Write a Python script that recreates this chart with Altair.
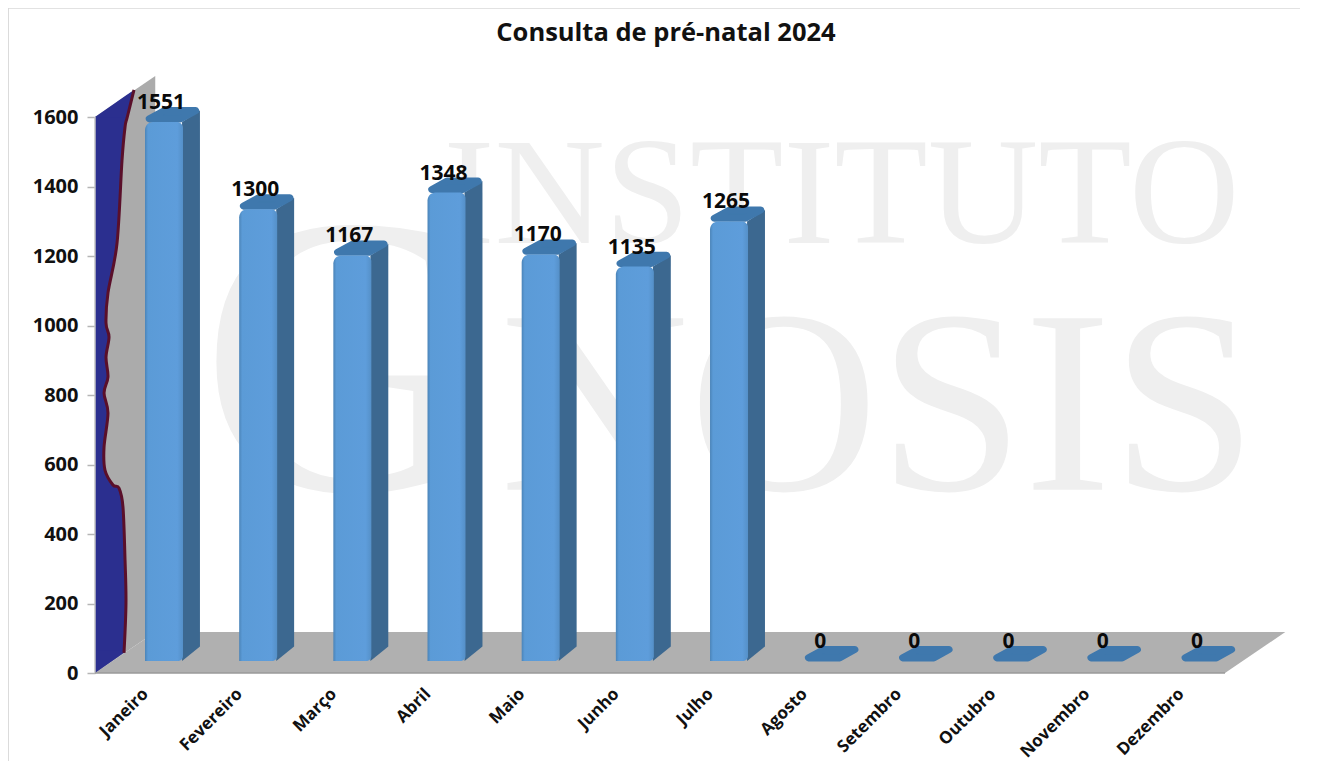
import altair as alt
import pandas as pd

months = ["Janeiro", "Fevereiro", "Março", "Abril", "Maio", "Junho", "Julho",
          "Agosto", "Setembro", "Outubro", "Novembro", "Dezembro"]
values = [1551, 1300, 1167, 1348, 1170, 1135, 1265, 0, 0, 0, 0, 0]

# wavy edge of the blue wall patch (x in category units, y in value units)
edge_y = [1600, 1571, 1476, 1237, 1094, 1007, 967, 909, 852, 806, 748, 650, 584, 541, 532, 478, 325, 201, 58]
edge_x = [-0.157, -0.181, -0.213, -0.266, -0.362, -0.383, -0.351, -0.383, -0.362, -0.404,
          -0.362, -0.404, -0.394, -0.309, -0.245, -0.203, -0.181, -0.171, -0.192]
slope_x = [-0.5, -0.157, -0.086]
slope_top = [1600, 1665, 1678]
toe_x = [-0.5, -0.192]
toe_y = [0, 58]

FONT = "Open Sans"
XMIN, XMAX, YMAX = -0.5, 12.158, 1718
DX, DY = 0.64, 118          # depth of the back wall / floor
BX, BW, BD = 0.031, 0.4035, 0.18   # bar offset, width, depth
BASE, RISE = 34.5, 42       # bar base above axis, rise of the top face
INX, INY = 0.045, 9         # inset of the rounded top face

xs = alt.Scale(domain=[XMIN, XMAX], nice=False, zero=False)
ys = alt.Scale(domain=[0, YMAX], nice=False, zero=False)
label_expr = "[" + ",".join(f"'{m}'" for m in months) + "][datum.value]"
x_axis = alt.Axis(
    values=list(range(12)), labelExpr=label_expr, labelAngle=-45, labelAlign="right",
    labelBaseline="middle", labelFont=FONT, labelFontWeight="bold", labelFontSize=17,
    labelColor="#111111", ticks=False, domain=False, grid=False, labelPadding=18, labelOffset=3,
    labelOverlap=False, labelBound=False, labelFlush=False, title=None)
y_axis = alt.Axis(
    values=list(range(0, 1601, 200)), format="d", labelFont=FONT, labelFontWeight="bold", labelFontSize=20,
    labelColor="#111111", tickColor="#b5b5b5", tickSize=8, tickWidth=1.5, domain=False,
    grid=False, labelPadding=9, labelOverlap=False, labelBound=False, labelFlush=False, title=None)
X = alt.X("x:Q", scale=xs, axis=x_axis)
Y = alt.Y("y:Q", scale=ys, axis=y_axis)
Y2 = alt.Y2("y2:Q")

# watermark
wm = pd.DataFrame({
    "t": ["INSTITUTO", "G", "NOSIS"],
    "x": [3.20, 0.615, 3.80],
    "y": [1237, 527, 527],
    "s": [153, 400, 262],
})
watermark = alt.Chart(wm).mark_text(font="Liberation Serif", align="left", baseline="alphabetic",
                                    color="#efefef").encode(
    x=X, y=Y, text="t:N", size=alt.Size("s:Q", scale=None, legend=None))

# wall and floor
wall_df = pd.DataFrame({"x": [XMIN, XMIN + DX], "y": [0, DY], "y2": [1600, 1600 + DY]})
wall = alt.Chart(wall_df).mark_area(color="#ababab").encode(x=X, y=Y, y2=Y2)

floor_df = pd.DataFrame({
    "x": [XMIN, XMIN + DX, 11.5, 11.5 + DX],
    "y": [0, 0, 0, DY],
    "y2": [0, DY, DY, DY],
})
floor = alt.Chart(floor_df).mark_area(color="#b0b0b0").encode(x=X, y=Y, y2=Y2)

# blue patch on the wall with its dark red edge
patch_df = pd.DataFrame({
    "x": [XMIN] * len(edge_x),
    "x2": edge_x,
    "y": edge_y,
})
patch = alt.Chart(patch_df).mark_area(orient="horizontal", color="#2b2f8f", interpolate="cardinal").encode(
    x=X, x2=alt.X2("x2:Q"), y=Y)
slope_df = pd.DataFrame({"x": slope_x, "y": [1598, 1598, 1678], "y2": slope_top})
slope = alt.Chart(slope_df).mark_area(color="#2b2f8f").encode(x=X, y=Y, y2=Y2)
toe_df = pd.DataFrame({"x": toe_x, "y": toe_y, "y2": [toe_y[1] + 6, toe_y[1] + 6]})
toe = alt.Chart(toe_df).mark_area(color="#2b2f8f").encode(x=X, y=Y, y2=Y2)
edge_df = pd.DataFrame({"x": [slope_x[2]] + edge_x, "y": [slope_top[2]] + edge_y, "i": range(len(edge_x) + 1)})
edge = alt.Chart(edge_df).mark_line(color="#5a0f2a", strokeWidth=3, interpolate="cardinal").encode(
    x=X, y=Y, order="i:Q")

# bars
front, side, top, labels = [], [], [], []
for i, (m, v) in enumerate(zip(months, values)):
    x0 = i + BX
    x1 = x0 + BW
    y0 = BASE
    yt = BASE + v
    labels.append({"x": x0 + 0.17, "y": yt, "t": str(v)})
    top += [
        {"m": m, "x": x0 + INX, "y": yt + INY, "y2": yt + INY},
        {"m": m, "x": x0 + BD + INX * 0.6, "y": yt + INY, "y2": yt + RISE - INY},
        {"m": m, "x": x1 - INX * 0.6, "y": yt + INY, "y2": yt + RISE - INY},
        {"m": m, "x": x1 + BD - INX, "y": yt + RISE - INY, "y2": yt + RISE - INY},
    ]
    if v > 0:
        front.append({"x": x0, "x2": x1, "y": y0, "y2": yt})
        side += [
            {"m": m, "x": x1 - 0.01, "y": y0, "y2": yt},
            {"m": m, "x": x1 + BD, "y": y0 + RISE, "y2": yt + RISE - INY},
        ]

side_m = alt.Chart(pd.DataFrame(side)).mark_area(color="#3c6890").encode(
    x=X, y=Y, y2=Y2, detail="m:N")
top_m = alt.Chart(pd.DataFrame(top)).mark_area(color="#3f78ad", stroke="#3f78ad", strokeWidth=7,
                                               strokeJoin="round").encode(
    x=X, y=Y, y2=Y2, detail="m:N")
grad = alt.Gradient(gradient="linear", x1=0, x2=1, y1=0, y2=0, stops=[
    alt.GradientStop(color="#4b84b8", offset=0),
    alt.GradientStop(color="#5b9bd7", offset=0.08),
    alt.GradientStop(color="#5e9ddb", offset=0.85),
    alt.GradientStop(color="#5590c8", offset=1),
])
front_m = alt.Chart(pd.DataFrame(front)).mark_bar(color=grad, cornerRadiusTopLeft=8, cornerRadiusTopRight=6,
                                                  cornerRadiusBottomRight=5).encode(
    x=X, x2=alt.X2("x2:Q"), y=Y, y2=Y2)
text_m = alt.Chart(pd.DataFrame(labels)).mark_text(font=FONT, fontWeight="bold", fontSize=21, color="#0a0a0a",
                                                   baseline="middle", dy=-19).encode(
    x=X, y=Y, text="t:N")

# floor edge, axis line
floor_edge_df = pd.DataFrame({"x": [XMIN], "x2": [11.5], "y": [0]})
floor_edge = alt.Chart(floor_edge_df).mark_rule(color="#9a9a9a", strokeWidth=1.5).encode(
    x=X, x2=alt.X2("x2:Q"), y=Y)
y_line_df = pd.DataFrame({"x": [XMIN], "y": [0], "y2": [1600]})
y_line = alt.Chart(y_line_df).mark_rule(color="#c4c4c4", strokeWidth=1.5).encode(x=X, y=Y, y2=Y2)

# outer frame
frame_df = pd.DataFrame({"a": [0]})
frame_left = alt.Chart(frame_df).mark_rule(color="#cfcfcf", strokeWidth=1.5).encode(
    x=alt.value(-87), y=alt.value(-68), y2=alt.value(685))
frame_top = alt.Chart(frame_df).mark_rule(color="#d8d8d8", strokeWidth=1.5).encode(
    x=alt.value(-87), x2=alt.value(1205), y=alt.value(-68))

# chart title as a text mark placed above the plot
title_df = pd.DataFrame({"t": ["Consulta de pré-natal 2024"]})
title_m = alt.Chart(title_df).mark_text(font=FONT, fontWeight="bold", fontSize=25.5, color="#111111",
                                        align="center", baseline="middle").encode(
    x=alt.value(571), y=alt.value(-43), text="t:N")

chart = alt.layer(
    watermark, frame_left, frame_top, wall, floor, patch, slope, toe, edge, y_line, floor_edge,
    side_m, top_m, front_m, text_m, title_m,
).properties(
    width=1192,
    height=597,
    padding={"left": 87, "top": 68, "right": 18, "bottom": 88},
    autosize=alt.AutoSizeParams(type="none"),
    background="white",
).configure_view(stroke=None)

chart.save("out.html", embed_options={"renderer": "svg", "actions": False})
